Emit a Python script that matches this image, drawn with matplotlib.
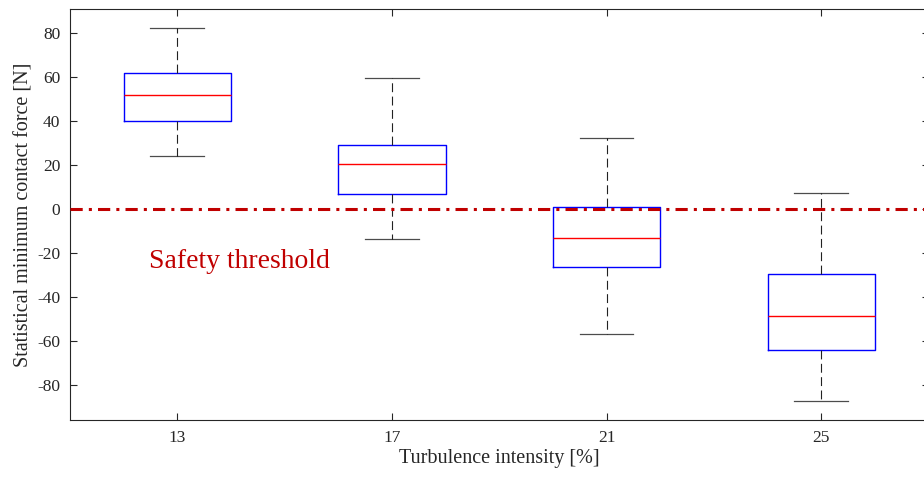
import matplotlib
matplotlib.use("Agg")
import matplotlib.pyplot as plt

plt.rcParams['font.family'] = ['Liberation Serif', 'DejaVu Serif']
plt.rcParams['axes.unicode_minus'] = False

# turbulence intensity groups and box statistics
labels = ['13', '17', '21', '25']
whishi = [82.3, 59.7, 32.4, 7.4]
q3 = [61.8, 28.9, 0.8, -29.5]
med = [51.8, 20.6, -13.0, -48.6]
q1 = [40.0, 6.7, -26.4, -64.1]
whislo = [24.2, -13.6, -56.7, -87.4]
threshold = 0

stats = []
for i in range(len(labels)):
    stats.append({'label': labels[i], 'whishi': whishi[i], 'q3': q3[i], 'med': med[i],
                  'q1': q1[i], 'whislo': whislo[i], 'fliers': []})

fig = plt.figure(figsize=(9.24, 4.82), dpi=100)
ax = fig.add_axes([70 / 924, 62 / 482, 858.6 / 924, 410.7 / 482])

ax.bxp(stats, positions=[1, 2, 3, 4], widths=0.5, showfliers=False,
       boxprops=dict(color='#0000ff', linewidth=1.0),
       medianprops=dict(color='#ff0000', linewidth=1.0),
       whiskerprops=dict(color='#222222', linewidth=0.8, linestyle=(0, (8, 4))),
       capprops=dict(color='black', linewidth=0.9, alpha=0.7),
       capwidths=0.25)

ax.axhline(threshold, color='#c00000', linewidth=2.2, linestyle=(0, (4, 2, 1, 2)), zorder=5)
ax.text(0.868, -23.8, 'Safety threshold', color='#c00000', fontsize=20, va='center', ha='left')

ax.set_xlim(0.5, 4.5)
ax.set_ylim(-95.9, 90.8)
ax.set_yticks([-80, -60, -40, -20, 0, 20, 40, 60, 80])
ax.set_xticks([1, 2, 3, 4])
ax.set_xticklabels(labels)
ax.tick_params(direction='in', top=True, right=True, labelsize=12.5, colors='#262626',
               length=5, width=0.8, pad=7)
for s in ax.spines.values():
    s.set_color('#262626')
    s.set_linewidth(0.8)

ax.set_xlabel('Turbulence intensity [%]', fontsize=14.5, color='#262626', labelpad=2)
ax.set_ylabel('Statistical minimum contact force [N]', fontsize=14.5, color='#262626')
ax.yaxis.set_label_coords(-0.043, 0.5)

fig.savefig('out.png', dpi=100)
